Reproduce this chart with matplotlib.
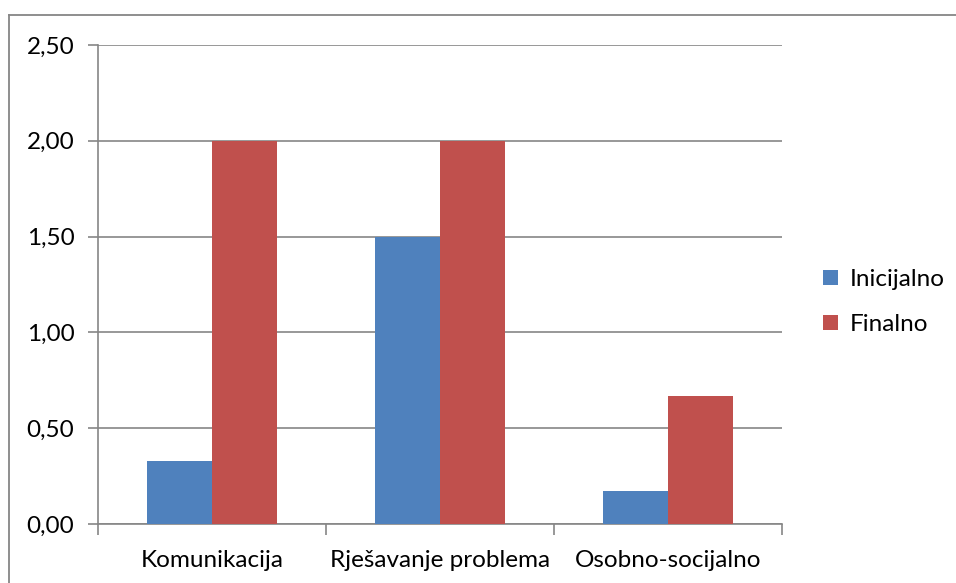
import matplotlib
matplotlib.use("Agg")
from matplotlib import pyplot as plt
from matplotlib.lines import Line2D
import numpy as np

plt.rcParams['font.family'] = ['Lato', 'DejaVu Sans']

# data
categories = ["Komunikacija", "Rješavanje problema", "Osobno-socijalno"]
inicijalno = [0.33, 1.50, 0.17]
finalno = [2.00, 2.00, 0.67]
series_names = ["Inicijalno", "Finalno"]
colors = ["#4F81BD", "#C0504D"]
grid_col = "#868686"
fs = 17.5

W, H = 956, 583
fig = plt.figure(figsize=(W/100, H/100), dpi=100)

# outer chart-area border (only top and left visible)
fig.add_artist(Line2D([9/W, 9/W], [0, 1 - 15/H], color=grid_col, lw=1.3))
fig.add_artist(Line2D([9/W, 1], [1 - 15/H, 1 - 15/H], color=grid_col, lw=1.3))

ax = fig.add_axes([98/W, 1 - 524/H, (782 - 98)/W, (524 - 45)/H])

x = np.arange(len(categories))
bw = 0.285
ax.bar(x - bw/2, inicijalno, bw, color=colors[0], label=series_names[0], zorder=3)
ax.bar(x + bw/2, finalno, bw, color=colors[1], label=series_names[1], zorder=3)

ax.set_xlim(-0.5, len(categories) - 0.5)
ax.set_ylim(0, 2.5)
yt = np.arange(0, 2.51, 0.5)
ax.set_yticks(yt)
ax.set_yticklabels([f"{v:.2f}".replace(".", ",") for v in yt], fontsize=fs)
ax.yaxis.grid(True, color=grid_col, lw=1.2, zorder=0)

# category labels centred, ticks at the boundaries
ax.set_xticks(x)
ax.set_xticklabels(categories, fontsize=fs)
ax.tick_params(axis='x', length=0, pad=19)
ax.set_xticks(np.arange(-0.5, len(categories)), minor=True)
ax.tick_params(axis='x', which='minor', length=8, color=grid_col, width=1.2)
ax.tick_params(axis='y', length=7, color=grid_col, width=1.2, pad=10)

for s in ["top", "right"]:
    ax.spines[s].set_visible(False)
for s in ["left", "bottom"]:
    ax.spines[s].set_color(grid_col)
    ax.spines[s].set_linewidth(1.2)

ax.legend(loc="center left", bbox_to_anchor=(811/W, 1 - 302/H), bbox_transform=fig.transFigure,
          frameon=False, fontsize=fs, handlelength=0.6, handleheight=0.6,
          handletextpad=0.5, labelspacing=1.0, borderpad=0)

fig.savefig("out.png", dpi=100)
